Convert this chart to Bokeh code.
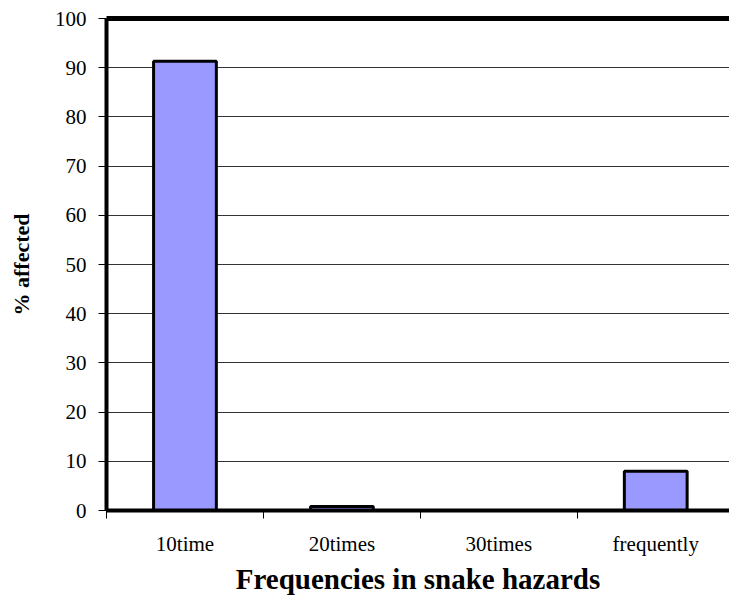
from bokeh.plotting import figure
from bokeh.models import ColumnDataSource, Range1d, FixedTicker, LinearAxis, Title
from bokeh.embed import file_html
from bokeh.resources import INLINE

categories = ["10time", "20times", "30times", "frequently"]
values = [91.3, 0.8, 0.0, 8.0]
y_ticks = [0, 10, 20, 30, 40, 50, 60, 70, 80, 90, 100]
x_title = "Frequencies in snake hazards"
y_title = "% affected"

positions = [i + 0.5 for i in range(len(categories))]
boundaries = list(range(len(categories) + 1))

source = ColumnDataSource(dict(x=positions, top=values, cat=categories))

p = figure(width=729, height=597, output_backend="svg", toolbar_location=None,
           x_range=Range1d(0, 3.97), y_range=Range1d(0, 100),
           min_border_left=106, min_border_right=0, min_border_top=18, min_border_bottom=0)
p.outline_line_color = None
p.background_fill_color = "white"

p.vbar(x="x", top="top", width=0.4, bottom=0, source=source,
       fill_color="#9999FF", line_color="black", line_width=3)

FONT = "Liberation Serif"

# x axis
xa = p.xaxis[0]
xa.ticker = FixedTicker(ticks=positions, minor_ticks=boundaries)
xa.major_label_overrides = {pos: c for pos, c in zip(positions, categories)}
xa.major_tick_line_color = None
xa.major_tick_out = 0
xa.major_tick_in = 0
xa.minor_tick_out = 8
xa.minor_tick_in = 0
xa.minor_tick_line_color = "black"
xa.minor_tick_line_width = 1
xa.axis_line_width = 4
xa.axis_line_color = "black"
xa.major_label_text_font = FONT
xa.major_label_text_font_size = "21px"
xa.major_label_text_color = "black"
xa.major_label_standoff = 13

# x title placed below the axis
p.add_layout(Title(text=x_title, align="center", text_font=FONT, text_font_style="bold",
                   text_font_size="29px", text_color="black", text_line_height=1.0,
                   standoff=5, offset=0, padding=0),
             "below")

# y axis
ya = p.yaxis[0]
ya.ticker = FixedTicker(ticks=y_ticks)
ya.major_tick_out = 8
ya.major_tick_in = 0
ya.major_tick_line_color = "black"
ya.major_tick_line_width = 1
ya.minor_tick_line_color = None
ya.axis_line_width = 4
ya.axis_line_color = "black"
ya.major_label_text_font = FONT
ya.major_label_text_font_size = "21px"
ya.major_label_text_color = "black"
ya.major_label_standoff = 12
ya.axis_label = y_title
ya.axis_label_text_font = FONT
ya.axis_label_text_font_style = "bold"
ya.axis_label_text_font_size = "22px"
ya.axis_label_text_color = "black"
ya.axis_label_standoff = 18

# top border
top_axis = LinearAxis(ticker=FixedTicker(ticks=[]), axis_line_width=5, axis_line_color="black",
                      major_tick_line_color=None, minor_tick_line_color=None,
                      major_label_text_font_size="0px")
p.add_layout(top_axis, "above")

p.xgrid.grid_line_color = None
p.ygrid.grid_line_color = "#333333"
p.ygrid.grid_line_width = 1
p.ygrid.ticker = FixedTicker(ticks=y_ticks)

open("out.html", "w").write(file_html(p, INLINE))
